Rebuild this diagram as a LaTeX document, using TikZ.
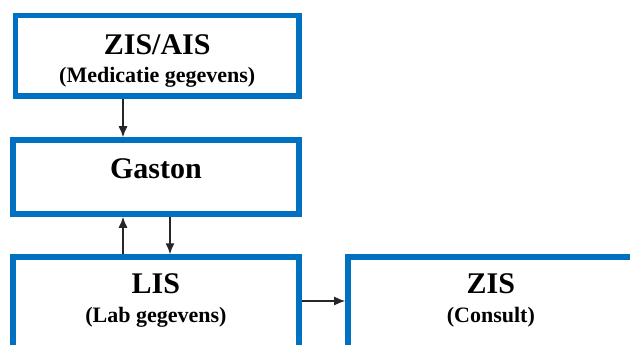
\documentclass[tikz,border=0pt]{standalone}
\usepackage{fontspec}
\setmainfont{Liberation Serif}
\usetikzlibrary{positioning,arrows.meta}
\definecolor{boxblue}{RGB}{0,112,192}

\begin{document}
\begin{tikzpicture}[x=1pt,y=-1pt,
    sysbox/.style={draw=boxblue,line width=5.5pt,minimum width=286pt,inner sep=0pt},
    hdr/.style={font=\fontsize{30}{32}\selectfont\bfseries,anchor=base,inner sep=0pt},
    sub/.style={font=\fontsize{22}{24}\selectfont\bfseries,anchor=base,inner sep=0pt},
    arr/.style={-{Latex[length=11pt,width=9pt]},line width=1.3pt,draw=black!85}]
      \useasboundingbox (0,0) rectangle (630,345);
      \clip (0,0) rectangle (630,345);
      % systemen
      \node[sysbox,minimum width=283.5pt,minimum height=80.7pt] (ais) at (157.25,55.85) {};
      \node[sysbox,minimum height=74pt] (gaston) at (155.9,177) {};
      \node[sysbox,minimum height=113pt] (lis) at (155.9,313.5) {};
      \node[sysbox,minimum height=113pt] (zis) at (490.9,313.5) {};
      \node[hdr] (aistitle) at ([yshift=-42pt]ais.north) {ZIS/AIS};
      \node[sub] (aissub) at ([yshift=-70pt]ais.north) {(Medicatie gegevens)};
      \node[hdr] (gastontitle) at ([yshift=-41pt]gaston.north) {Gaston};
      \node[hdr] (listitle) at ([yshift=-39pt]lis.north) {LIS};
      \node[sub] (lissub) at ([yshift=-68pt]lis.north) {(Lab gegevens)};
      \node[hdr] (zistitle) at ([yshift=-39pt]zis.north) {ZIS};
      \node[sub] (zissub) at ([yshift=-68pt]zis.north) {(Consult)};
      % koppelingen
      \coordinate (lx) at (123,0); \coordinate (rx) at (170,0); \coordinate (my) at (0,301);
      \draw[arr] (ais.south -| lx) -- (gaston.north -| lx);
      \draw[arr] (lis.north -| lx) -- (gaston.south -| lx);
      \draw[arr] (gaston.south -| rx) -- (lis.north -| rx);
      \draw[arr] (lis.east |- my) -- (zis.west |- my);
    \end{tikzpicture}
\end{document}
